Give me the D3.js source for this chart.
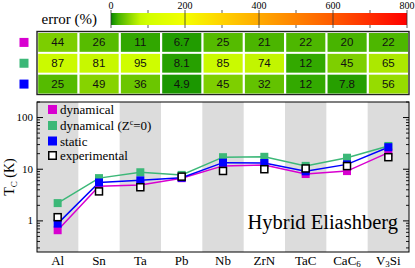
<!DOCTYPE html>
<html><head><meta charset="utf-8">
<script src="https://cdn.jsdelivr.net/npm/d3@7/dist/d3.min.js"></script>
<style>body{margin:0;background:#fff}svg{display:block}</style>
</head><body>
<script>
const materials = ["Al","Sn","Ta","Pb","Nb","ZrN","TaC","CaC6","V3Si"];
const experimental = [1.18, 3.72, 4.48, 7.19, 9.25, 10.0, 10.35, 11.5, 17.1];
const dynamical    = [0.66, 4.69, 4.97, 6.71, 11.6, 12.1, 8.07, 9.2, 20.9];
const dynamicalZ0  = [2.21, 6.73, 8.74, 7.77, 17.1, 17.4, 11.6, 16.7, 28.2];
const staticTc     = [0.885, 5.54, 6.09, 6.84, 13.4, 13.2, 9.11, 12.4, 26.7];
const errDyn    = ["44","26","11","6.7","25","21","22","20","22"];
const errZ0     = ["87","81","95","8.1","85","74","12","45","65"];
const errStatic = ["25","49","36","4.9","45","32","12","7.8","56"];
const errTicks = [0,200,400,600,800];
const errMinorTicks = [100,300,500,700];
const yTicks = [1,10,100];
const colDyn = "#d800d0", colZ0 = "#3cb878", colStatic = "#0000ff";

const W=415,H=268;
const svg=d3.select("body").append("svg").attr("width",W).attr("height",H);
const serif="'Liberation Serif','Times New Roman','DejaVu Serif',serif";
const sans="'Liberation Sans',Arial,sans-serif";

// colour scale
const cmap=d3.scaleLinear()
  .domain([0,10,25,50,75,100,200,300,400,600,800])
  .range(["#088800","#2ea600","#55bb00","#88d400","#c4f600","#d2ff00","#f4ff00","#ffd200","#ffaa00","#ff5a00","#ff0000"])
  .clamp(true);

// colorbar
const cx=d3.scaleLinear().domain([0,800]).range([111,407]);
const defs=svg.append("defs");
const grad=defs.append("linearGradient").attr("id","cb");
d3.range(0,801,20).forEach(v=>grad.append("stop").attr("offset",(v/800*100)+"%").attr("stop-color",cmap(v)));
svg.append("rect").attr("x",cx(0)).attr("y",13).attr("width",cx(800)-cx(0)).attr("height",12).attr("fill","url(#cb)");
errTicks.forEach(v=>{
  svg.append("line").attr("x1",cx(v)).attr("x2",cx(v)).attr("y1",10).attr("y2",28).attr("stroke","#333").attr("stroke-width",0.8);
  svg.append("text").attr("x",cx(v)).attr("y",9).attr("text-anchor","middle").attr("font-family",serif).attr("font-size",10).text(v);
});
errMinorTicks.forEach(v=>{
  svg.append("line").attr("x1",cx(v)).attr("x2",cx(v)).attr("y1",10).attr("y2",13).attr("stroke","#333").attr("stroke-width",0.8);
  svg.append("line").attr("x1",cx(v)).attr("x2",cx(v)).attr("y1",25).attr("y2",28).attr("stroke","#333").attr("stroke-width",0.8);
});
svg.append("text").attr("x",97).attr("y",24).attr("text-anchor","end").attr("font-family",serif).attr("font-size",15).text("error (%)");

// shared x band
const x=d3.scaleBand().domain(materials).range([37,409]).padding(0);
const bw=x.bandwidth();

// heatmap
const rows=[{err:errDyn,c:colDyn},{err:errZ0,c:colZ0},{err:errStatic,c:colStatic}];
const hy=d3.scaleBand().domain([0,1,2]).range([32,94.5]);
svg.append("rect").attr("x",37).attr("y",31.5).attr("width",372).attr("height",63).attr("fill","#fff").attr("stroke","#222").attr("stroke-width",1.4);
rows.forEach((r,i)=>{
  materials.forEach((m,j)=>{
    svg.append("rect").attr("x",x(m)+1.2).attr("y",hy(i)+1).attr("width",bw-2.2).attr("height",hy.bandwidth()-2)
      .attr("fill",cmap(+r.err[j]));
    svg.append("text").attr("x",x(m)+bw/2).attr("y",hy(i)+hy.bandwidth()/2+4).attr("text-anchor","middle")
      .attr("font-family",sans).attr("font-size",11.5).attr("fill","#111").text(r.err[j]);
  });
  svg.append("rect").attr("x",19.5).attr("y",hy(i)+hy.bandwidth()/2-4.5).attr("width",9).attr("height",9).attr("fill",r.c);
});

// main plot
const y=d3.scaleLog().domain([0.25,200]).range([252,102]);
const g=svg.append("g");
materials.forEach((m,j)=>{
  if(j%2===0) g.append("rect").attr("x",x(m)).attr("y",102).attr("width",bw).attr("height",150).attr("fill","#dcdcdc");
});
const minor=[];
[0.1,1,10,100].forEach(d=>{for(let k=2;k<=9;k++){const v=d*k;if(v>=0.25&&v<=200)minor.push(v);}});
minor.forEach(v=>{
  g.append("line").attr("x1",37).attr("x2",40).attr("y1",y(v)).attr("y2",y(v)).attr("stroke","#000").attr("stroke-width",0.9);
  g.append("line").attr("x1",409).attr("x2",406).attr("y1",y(v)).attr("y2",y(v)).attr("stroke","#000").attr("stroke-width",0.9);
});
yTicks.forEach(v=>{
  g.append("line").attr("x1",37).attr("x2",43).attr("y1",y(v)).attr("y2",y(v)).attr("stroke","#000").attr("stroke-width",1);
  g.append("line").attr("x1",409).attr("x2",403).attr("y1",y(v)).attr("y2",y(v)).attr("stroke","#000").attr("stroke-width",1);
  g.append("text").attr("x",33).attr("y",y(v)+3.5).attr("text-anchor","end").attr("font-family",serif).attr("font-size",11).text(v);
});
g.append("rect").attr("x",37).attr("y",102).attr("width",372).attr("height",150).attr("fill","none").attr("stroke","#000").attr("stroke-width",1);

const line=d3.line().x((d,i)=>x(materials[i])+bw/2).y(d=>y(d));
const series=[{v:dynamicalZ0,c:colZ0},{v:dynamical,c:colDyn},{v:staticTc,c:colStatic}];
series.forEach(s=>{
  g.append("path").attr("d",line(s.v)).attr("fill","none").attr("stroke",s.c).attr("stroke-width",1.5);
});
series.forEach(s=>{
  s.v.forEach((v,i)=>g.append("rect").attr("x",x(materials[i])+bw/2-4).attr("y",y(v)-4).attr("width",8).attr("height",8).attr("fill",s.c));
});
experimental.forEach((v,i)=>g.append("rect").attr("x",x(materials[i])+bw/2-3.5).attr("y",y(v)-3.5).attr("width",7).attr("height",7)
  .attr("fill","#fff").attr("stroke","#000").attr("stroke-width",1.5));

// legend
const leg=[{c:colDyn,t:"dynamical"},{c:colZ0,t:"dynamical (Z",sup:"c",t2:"=0)"},{c:colStatic,t:"static"},{c:null,t:"experimental"}];
const ly=[110,126,141.5,156];
leg.forEach((l,i)=>{
  if(l.c) g.append("rect").attr("x",48).attr("y",ly[i]-5).attr("width",9).attr("height",9).attr("fill",l.c);
  else g.append("rect").attr("x",48.75).attr("y",ly[i]-4.25).attr("width",7.5).attr("height",7.5).attr("fill","#fff").attr("stroke","#000").attr("stroke-width",1.5);
  const t=g.append("text").attr("x",60).attr("y",ly[i]+4).attr("font-family",serif).attr("font-size",13).text(l.t);
  if(l.sup){t.append("tspan").attr("font-size",8).attr("dy",-5).text(l.sup);t.append("tspan").attr("dy",5).text(l.t2);}
});

g.append("text").attr("x",398).attr("y",229).attr("text-anchor","end").attr("font-family",serif).attr("font-size",20.5).text("Hybrid Eliashberg");

// x labels
materials.forEach(m=>{
  const t=svg.append("text").attr("x",x(m)+bw/2).attr("y",265).attr("text-anchor","middle").attr("font-family",serif).attr("font-size",13);
  const mm=m.match(/^([A-Za-z]+)(\d?)([A-Za-z]*)$/);
  if(mm&&mm[2]){t.append("tspan").text(mm[1]);t.append("tspan").attr("font-size",9).attr("dy",2).text(mm[2]);if(mm[3])t.append("tspan").attr("dy",-2).text(mm[3]);}
  else t.text(m);
});

// y label
const yl=svg.append("text").attr("transform","translate(14,177) rotate(-90)").attr("text-anchor","middle").attr("font-family",serif).attr("font-size",14);
yl.append("tspan").text("T");yl.append("tspan").attr("font-size",9).attr("dy",3).text("C");yl.append("tspan").attr("dy",-3).text(" (K)");
</script>
</body></html>
